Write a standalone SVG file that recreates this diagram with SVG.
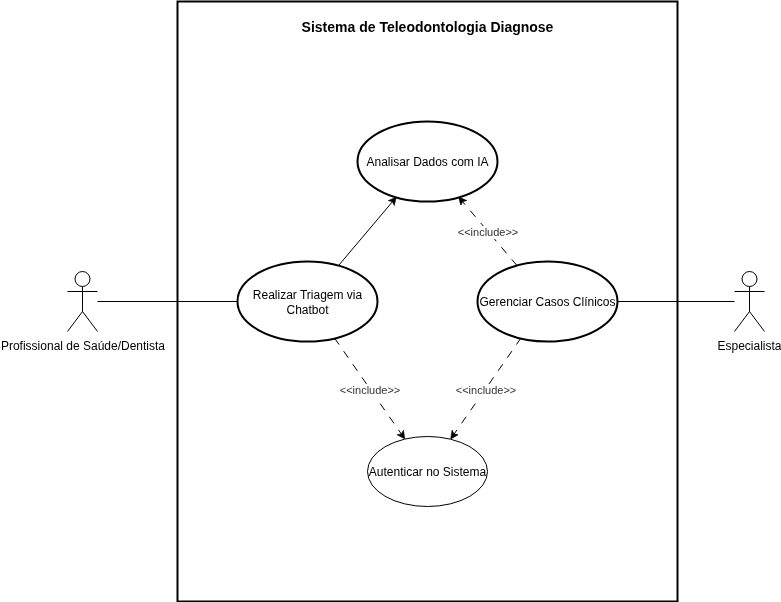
<svg xmlns="http://www.w3.org/2000/svg" width="781" height="602" viewBox="0 0 781 602">
<style>
text{font-family:"Liberation Sans",Arial,Helvetica,sans-serif;font-size:12px;fill:#000;text-anchor:middle;filter:url(#gray)}
.u{fill:#fff;stroke:#000;stroke-width:2}
.a{fill:#fff;stroke:#000;stroke-width:1}
.c{fill:none;stroke:#000;stroke-width:1}
.d{stroke-dasharray:8 8}
.l{font-size:11px;fill:#333}
.bg{fill:#fff;stroke:none}
</style>
<defs>
<filter id="gray" x="-5%" y="-20%" width="110%" height="140%" color-interpolation-filters="sRGB"><feOffset dx="0" dy="0"/></filter>
<marker id="arr" markerUnits="userSpaceOnUse" markerWidth="10" markerHeight="10" refX="7.500" refY="4" orient="auto" viewBox="0 0 10 10">
<path d="M0 0L8 4L0 8L2 4Z" fill="#000" stroke="#000" stroke-width="0.5"/>
</marker>
</defs>
<rect width="781" height="602" fill="#fff"/>
<g id="system">
<rect x="177.500" y="1.500" width="500" height="600" fill="#fff" stroke="#000" stroke-width="2"/>
<text x="427.500" y="32" style="font-size:14px;font-weight:bold">Sistema de Teleodontologia Diagnose</text>
</g>
<g id="connectors">
<path class="c" d="M97.500 301.500H237.500"/>
<path class="c" d="M617.500 301.500H734.500"/>
<path class="c" d="M339 265L396 197.500" marker-end="url(#arr)"/>
<path class="c d" d="M517 265.500L459 197.500" marker-end="url(#arr)"/>
<path class="c d" d="M334.500 338L404.500 438.500" marker-end="url(#arr)"/>
<path class="c d" d="M521 338L451 438.500" marker-end="url(#arr)"/>
</g>
<g id="label-include-1"><rect class="bg" x="458" y="226" width="60" height="13"/><text class="l" x="488" y="236">&lt;&lt;include&gt;&gt;</text></g>
<g id="label-include-2"><rect class="bg" x="340" y="384" width="60" height="13"/><text class="l" x="370" y="394">&lt;&lt;include&gt;&gt;</text></g>
<g id="label-include-3"><rect class="bg" x="456" y="384" width="60" height="13"/><text class="l" x="486" y="394">&lt;&lt;include&gt;&gt;</text></g>
<g id="actor-profissional">
<circle class="a" cx="82.500" cy="279" r="7.500"/>
<path class="c" d="M82.500 286.500V311.500M67.500 291.500H97.500M67.500 331.500L82.500 311.500L97.500 331.500"/>
<text x="83" y="350">Profissional de Saúde/Dentista</text>
</g>
<g id="actor-especialista">
<circle class="a" cx="749.500" cy="279" r="7.500"/>
<path class="c" d="M749.500 286.500V311.500M734.500 291.500H764.500M734.500 331.500L749.500 311.500L764.500 331.500"/>
<text x="749.500" y="350">Especialista</text>
</g>
<g id="uc-analisar"><ellipse class="u" cx="427.500" cy="161.500" rx="70" ry="40"/><text x="427.500" y="166">Analisar Dados com IA</text></g>
<g id="uc-triagem"><ellipse class="u" cx="307.500" cy="301.500" rx="70" ry="40"/><text x="307.500" y="299">Realizar Triagem via</text><text x="307.500" y="314">Chatbot</text></g>
<g id="uc-gerenciar"><ellipse class="u" cx="547.500" cy="301.500" rx="70" ry="40"/><text x="547.500" y="306">Gerenciar Casos Clínicos</text></g>
<g id="uc-autenticar"><ellipse cx="427.500" cy="471.500" rx="60" ry="35" fill="#fff" stroke="#000"/><text x="427.500" y="476">Autenticar no Sistema</text></g>
</svg>
